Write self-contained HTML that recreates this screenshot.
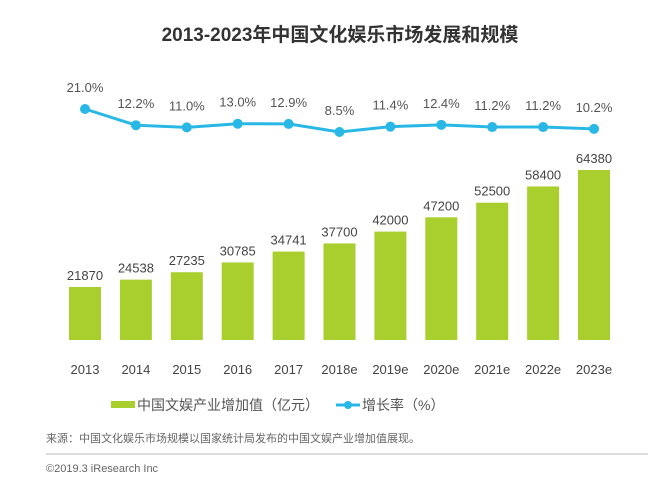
<!DOCTYPE html>
<html><head><meta charset="utf-8"><style>
body{margin:0;background:#fff;width:648px;height:479px;overflow:hidden;font-family:"Liberation Sans","Noto Sans CJK SC",sans-serif}
</style></head><body>
<svg width="648" height="479" style="font-family:'Liberation Sans','Noto Sans CJK SC',sans-serif">
<text x="340" y="41" text-anchor="middle" font-size="19" font-weight="bold" fill="#333">2013-2023年中国文化娱乐市场发展和规模</text>
<g id="bars"></g><g id="line"></g><g id="xlab"></g>
<g>
<rect x="111" y="401" width="24" height="7" fill="#a8cf2e"/>
<text x="137" y="410" font-size="14" fill="#555">中国文娱产业增加值（亿元）</text>
<line x1="336" y1="405" x2="360" y2="405" stroke="#29b8e5" stroke-width="3"/>
<circle cx="348" cy="405" r="4" fill="#29b8e5"/>
<text x="362" y="410" font-size="14" fill="#555">增长率（%）</text>
</g>
<text x="46" y="442" font-size="11" fill="#666">来源：中国文化娱乐市场规模以国家统计局发布的中国文娱产业增加值展现。</text>
<line x1="46" y1="454" x2="648" y2="454" stroke="#bbb" stroke-width="1"/>
<text x="46" y="472" font-size="11" fill="#666">©2019.3 iResearch Inc</text>
</svg>
<script>
const categories=["2013","2014","2015","2016","2017","2018e","2019e","2020e","2021e","2022e","2023e"];
const values=[21870,24538,27235,30785,34741,37700,42000,47200,52500,58400,64380];
const growth=[21.0,12.2,11.0,13.0,12.9,8.5,11.4,12.4,11.2,11.2,10.2];
const NS="http://www.w3.org/2000/svg";
const xPos=i=>85+i*50.9;
const base=340;
const barH=v=>(v-2610)*0.002752;
const yLine=g=>109+(21-g)*1.84;
function mk(t,a,p){const e=document.createElementNS(NS,t);for(const k in a)e.setAttribute(k,a[k]);p.appendChild(e);return e;}
const bars=document.getElementById('bars'),line=document.getElementById('line'),xl=document.getElementById('xlab');
values.forEach((v,i)=>{
 const h=barH(v);
 const r=mk('rect',{x:xPos(i)-16,y:base-h,width:32,height:h,fill:'#a8cf2e'},bars);
 
 
 const t=mk('text',{x:xPos(i),y:base-h-7,'text-anchor':'middle','font-size':13,fill:'#444'},bars);
 t.textContent=v;
 
 
 const c=mk('text',{x:xPos(i),y:374,'text-anchor':'middle','font-size':13,fill:'#444'},xl);
 c.textContent=categories[i];
 
 
});
const pts=growth.map((g,i)=>xPos(i)+','+yLine(g)).join(' ');
const pl=mk('polyline',{points:pts,fill:'none',stroke:'#29b8e5','stroke-width':3},line);


growth.forEach((g,i)=>{
 const c=mk('circle',{cx:xPos(i),cy:yLine(g),r:5,fill:'#29b8e5'},line);
 
 
 const t=mk('text',{x:xPos(i),y:yLine(g)-17,'text-anchor':'middle','font-size':13,fill:'#555'},line);
 t.textContent=g.toFixed(1)+'%';
 
 
});
</script>
</body></html>
